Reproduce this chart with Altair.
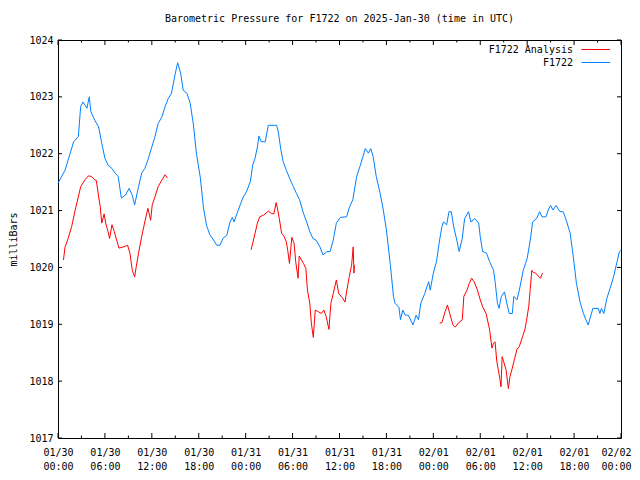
import altair as alt
import pandas as pd
import json

# ---------------- data (hours since 2025-01-30 00:00 UTC) ----------------
blue_hours = [0.0, 0.9, 1.5, 2.0, 2.6, 2.9, 3.2, 3.7, 4.0, 4.2, 4.7, 5.2, 5.6, 6.0, 6.4, 6.9, 7.3, 7.7,
              8.1, 8.6, 9.1, 9.5, 9.8, 10.3, 10.7, 11.1, 11.5, 12.0, 12.4, 12.8, 13.3, 13.7, 14.1, 14.5,
              15.0, 15.3, 15.7, 16.0, 16.5, 16.9, 17.3, 17.7, 18.2, 18.6, 19.0, 19.4, 19.9, 20.3, 20.7,
              21.1, 21.6, 22.0, 22.3, 22.5, 22.9, 23.3, 23.7, 24.1, 24.6, 24.9, 25.2, 25.5, 25.7, 26.0,
              26.5, 26.9, 27.96, 28.2, 28.5, 28.8, 29.2, 29.7, 30.1, 30.5, 30.9, 31.4, 31.8, 32.2, 32.6,
              33.0, 33.5, 33.9, 34.4, 34.8, 35.2, 35.6, 36.1, 36.9, 37.3, 37.7, 38.2, 38.6, 39.0, 39.3,
              39.7, 40.0, 40.3, 40.7, 41.2, 41.6, 42.0, 42.5, 42.9, 43.1, 43.6, 43.8, 44.1, 44.4, 44.8,
              45.4, 45.8, 46.1, 46.4, 46.9, 47.4, 47.6, 48.0, 48.4, 48.8, 49.1, 49.3, 49.7, 50.0, 50.3,
              50.6, 51.0, 51.3, 51.7, 52.0, 52.5, 52.8, 53.3, 53.8, 54.0, 54.3, 54.8, 55.2, 55.7, 55.9,
              56.2, 56.4, 56.7, 57.1, 57.4, 57.7, 58.1, 58.3, 58.7, 59.0, 59.5, 59.8, 60.0, 60.4, 60.7,
              61.2, 61.6, 61.9, 62.4, 62.7, 63.0, 63.3, 63.7, 64.2, 64.6, 65.0, 65.5, 65.9, 66.3, 66.8,
              67.2, 67.5, 67.8, 68.1, 68.4, 69.1, 69.3, 69.5, 69.8, 70.2, 70.6, 71.0, 71.5, 71.8, 72.0]
blue_mb = [1021.48, 1021.71, 1021.98, 1022.21, 1022.30, 1022.83, 1022.91, 1022.80, 1023.00, 1022.74,
           1022.59, 1022.47, 1022.18, 1021.92, 1021.80, 1021.74, 1021.66, 1021.60, 1021.22, 1021.27,
           1021.39, 1021.27, 1021.10, 1021.42, 1021.66, 1021.74, 1021.89, 1022.12, 1022.30, 1022.53,
           1022.65, 1022.83, 1022.97, 1023.06, 1023.41, 1023.60, 1023.41, 1023.12, 1023.06, 1022.89,
           1022.53, 1022.01, 1021.58, 1021.05, 1020.74, 1020.58, 1020.48, 1020.39, 1020.39, 1020.51,
           1020.57, 1020.80, 1020.88, 1020.80, 1020.95, 1021.10, 1021.24, 1021.33, 1021.51, 1021.80,
           1021.92, 1022.12, 1022.31, 1022.21, 1022.21, 1022.50, 1022.50, 1022.36, 1022.07, 1021.86,
           1021.71, 1021.54, 1021.42, 1021.30, 1021.19, 1020.95, 1020.80, 1020.63, 1020.51, 1020.48,
           1020.36, 1020.22, 1020.28, 1020.28, 1020.48, 1020.78, 1020.88, 1020.89, 1021.07, 1021.19,
           1021.60, 1021.77, 1021.95, 1022.09, 1022.01, 1022.09, 1021.95, 1021.60, 1021.30, 1021.01,
           1020.66, 1020.05, 1019.49, 1019.37, 1019.30, 1019.08, 1019.25, 1019.16, 1019.16, 1018.99,
           1019.16, 1019.08, 1019.37, 1019.54, 1019.75, 1019.60, 1019.90, 1020.10, 1020.48, 1020.72,
           1020.80, 1020.75, 1020.98, 1020.98, 1020.72, 1020.48, 1020.28, 1020.51, 1020.86, 1020.98,
           1020.80, 1020.86, 1020.78, 1020.54, 1020.28, 1020.25, 1020.10, 1019.95, 1019.75, 1019.37,
           1019.28, 1019.49, 1019.57, 1019.37, 1019.19, 1019.19, 1019.49, 1019.43, 1019.60, 1019.95,
           1020.07, 1020.16, 1020.48, 1020.80, 1020.86, 1020.98, 1020.89, 1020.89, 1021.01, 1021.09,
           1021.01, 1021.09, 1020.98, 1020.98, 1020.83, 1020.60, 1020.19, 1019.72, 1019.37, 1019.19,
           1019.08, 1018.99, 1019.13, 1019.28, 1019.28, 1019.19, 1019.28, 1019.19, 1019.46, 1019.63,
           1019.81, 1020.10, 1020.28, 1020.31]

red1_hours = [0.7, 0.9, 1.3, 1.75, 2.2, 2.6, 2.9, 3.45, 3.9, 4.3, 4.7, 4.9, 5.2, 5.4, 5.6, 5.9, 6.1,
              6.4, 6.6, 6.9, 7.2, 7.5, 7.8, 8.35, 8.9, 9.2, 9.5, 9.8, 10.0, 10.3, 10.7, 11.1, 11.5,
              11.85, 12.05, 12.4, 12.8, 13.3, 13.7, 14.0]
red1_mb = [1020.13, 1020.36, 1020.51, 1020.72, 1021.01, 1021.24, 1021.42, 1021.54, 1021.61, 1021.60,
           1021.54, 1021.53, 1021.24, 1021.07, 1020.78, 1020.94, 1020.78, 1020.63, 1020.51, 1020.75,
           1020.63, 1020.48, 1020.34, 1020.36, 1020.39, 1020.25, 1019.95, 1019.83, 1020.01, 1020.25,
           1020.54, 1020.80, 1021.04, 1020.83, 1021.10, 1021.24, 1021.42, 1021.54, 1021.63, 1021.57]

red2_hours = [24.7, 25.2, 25.5, 25.8, 26.3, 26.9, 27.3, 27.6, 27.9, 28.1, 28.3, 28.6, 28.9, 29.2, 29.4,
              29.6, 29.9, 30.2, 30.4, 30.7, 30.85, 31.4, 31.7, 31.9, 32.2, 32.4, 32.65, 32.9, 33.3,
              33.7, 34.0, 34.3, 34.65, 34.9, 35.2, 35.6, 35.9, 36.4, 36.7, 36.9, 37.25, 37.55, 37.75,
              37.85, 37.9]
red2_mb = [1020.31, 1020.60, 1020.78, 1020.89, 1020.92, 1020.99, 1020.95, 1020.94, 1021.14, 1021.01,
           1020.86, 1020.60, 1020.55, 1020.45, 1020.28, 1020.07, 1020.53, 1020.42, 1020.10, 1019.81,
           1020.20, 1020.07, 1019.98, 1019.60, 1019.37, 1019.02, 1018.77, 1019.25, 1019.22, 1019.19,
           1019.25, 1019.13, 1018.91, 1019.37, 1019.54, 1019.78, 1019.54, 1019.46, 1019.39, 1019.57,
           1019.84, 1020.04, 1020.36, 1019.90, 1020.04]

red3_hours = [48.8, 49.1, 49.5, 49.8, 50.1, 50.5, 50.8, 51.2, 51.7, 51.9, 52.3, 52.6, 52.9, 53.2, 53.6,
              54.0, 54.3, 54.75, 55.2, 55.5, 55.7, 55.9, 56.1, 56.3, 56.5, 56.65, 56.8, 57.0, 57.3,
              57.6, 57.8, 58.1, 58.4, 58.7, 59.0, 59.4, 59.7, 59.9, 60.2, 60.4, 60.6, 60.8, 61.1,
              61.4, 61.7, 61.95]
red3_mb = [1019.02, 1019.03, 1019.22, 1019.34, 1019.19, 1018.99, 1018.95, 1019.02, 1019.08, 1019.49,
           1019.60, 1019.72, 1019.81, 1019.75, 1019.62, 1019.43, 1019.31, 1019.19, 1018.90, 1018.58,
           1018.67, 1018.69, 1018.37, 1018.20, 1018.05, 1017.90, 1018.43, 1018.34, 1018.20, 1017.87,
           1018.08, 1018.23, 1018.40, 1018.56, 1018.61, 1018.78, 1018.90, 1019.05, 1019.31, 1019.63,
           1019.95, 1019.91, 1019.90, 1019.85, 1019.81, 1019.90]

series_names = ["F1722 Analysis", "F1722"]
series_colors = ["#ff0000", "#0080ff"]
day_labels = ["01/30", "01/31", "02/01", "02/02"]
x_major = list(range(0, 73, 6))
x_minor = list(range(3, 72, 6))
y_ticks = [1017, 1018, 1019, 1020, 1021, 1022, 1023, 1024]
title_text = "Barometric Pressure for F1722 on 2025-Jan-30 (time in UTC)"

# ---------------- build table ----------------
rows = []
for h, p in zip(blue_hours, blue_mb):
    rows.append({"h": h, "p": p, "series": "F1722", "seg": "b"})
for seg, hs, ps in [("r1", red1_hours, red1_mb), ("r2", red2_hours, red2_mb), ("r3", red3_hours, red3_mb)]:
    for h, p in zip(hs, ps):
        rows.append({"h": h, "p": p, "series": "F1722 Analysis", "seg": seg})
df = pd.DataFrame(rows)

FONT = "DejaVu Sans Mono"
W, H = 563, 398

xs = alt.Scale(domain=[0, 72], nice=False, zero=False)
ys = alt.Scale(domain=[1017, 1024], nice=False, zero=False)

label_expr = ("[" + json.dumps(day_labels) + "[floor(datum.value/24)], "
              "(datum.value%24<10?'0':'')+(datum.value%24)+':00']")

x_axis = alt.Axis(
    values=x_major, labelExpr=label_expr, ticks=False, domain=False, grid=False,
    labelFont=FONT, labelFontSize=10, labelColor="black", labelPadding=9,
    labelBaseline="top", labelLineHeight=14, labelOverlap=False, labelFlush=False,
    labelOffset={"condition": {"test": "datum.value >= 72", "value": -5}, "value": 0},
    title=None)
y_axis = alt.Axis(
    values=y_ticks, format="d", ticks=False, domain=False, grid=False,
    labelFont=FONT, labelFontSize=10, labelColor="black", labelPadding=5,
    title="milliBars", titleFont=FONT, titleFontSize=10, titleFontWeight="normal",
    titleColor="black", titleX=-45, titleY=H / 2, titleAngle=270,
    titleAlign="center", titleBaseline="middle")

lines = alt.Chart(df).mark_line(strokeWidth=1).encode(
    x=alt.X("h:Q", scale=xs, axis=x_axis),
    y=alt.Y("p:Q", scale=ys, axis=y_axis),
    color=alt.Color("series:N", scale=alt.Scale(domain=series_names, range=series_colors), legend=None),
    detail="seg:N",
    order=alt.Order("h:Q"),
)

xmaj = pd.DataFrame({"h": x_major})
xmin = pd.DataFrame({"h": x_minor})
ytk = pd.DataFrame({"p": y_ticks})

def xrule(d, y0, y1):
    return alt.Chart(d).mark_rule(color="black", strokeWidth=1).encode(
        x=alt.X("h:Q", scale=xs, axis=x_axis), y=alt.value(y0), y2=alt.value(y1))

def yrule(x0, x1):
    return alt.Chart(ytk).mark_rule(color="black", strokeWidth=1).encode(
        y=alt.Y("p:Q", scale=ys, axis=y_axis), x=alt.value(x0), x2=alt.value(x1))

ticks = [
    xrule(xmaj, H, H - 5), xrule(xmaj, 0, 5),
    xrule(xmin, H, H - 2.5), xrule(xmin, 0, 2.5),
    yrule(0, 4), yrule(W, W - 4),
]

def text_layer(txt, x, y, align):
    return alt.Chart(pd.DataFrame({"s": [txt]})).mark_text(
        font=FONT, fontSize=10, color="black", align=align, baseline="middle"
    ).encode(text="s:N", x=alt.value(x), y=alt.value(y))

def legend_line(color, y):
    return alt.Chart(pd.DataFrame({"s": [0]})).mark_rule(color=color, strokeWidth=1).encode(
        x=alt.value(523.5), x2=alt.value(552), y=alt.value(y))

overlay = [
    text_layer(title_text, W / 2, -21, "center"),
    text_layer(series_names[0], 515, 9.5, "right"),
    legend_line(series_colors[0], 9.5),
    text_layer(series_names[1], 515, 22.5, "right"),
    legend_line(series_colors[1], 22.5),
]

chart = alt.layer(lines, *ticks, *overlay).properties(
    width=W, height=H,
    autosize=alt.AutoSizeParams(type="none"),
    padding={"left": 50, "top": 32, "right": 11, "bottom": 34},
    background="white",
).configure_view(stroke="black", strokeWidth=1)

chart.save("out.html", embed_options={"renderer": "svg", "actions": False})
